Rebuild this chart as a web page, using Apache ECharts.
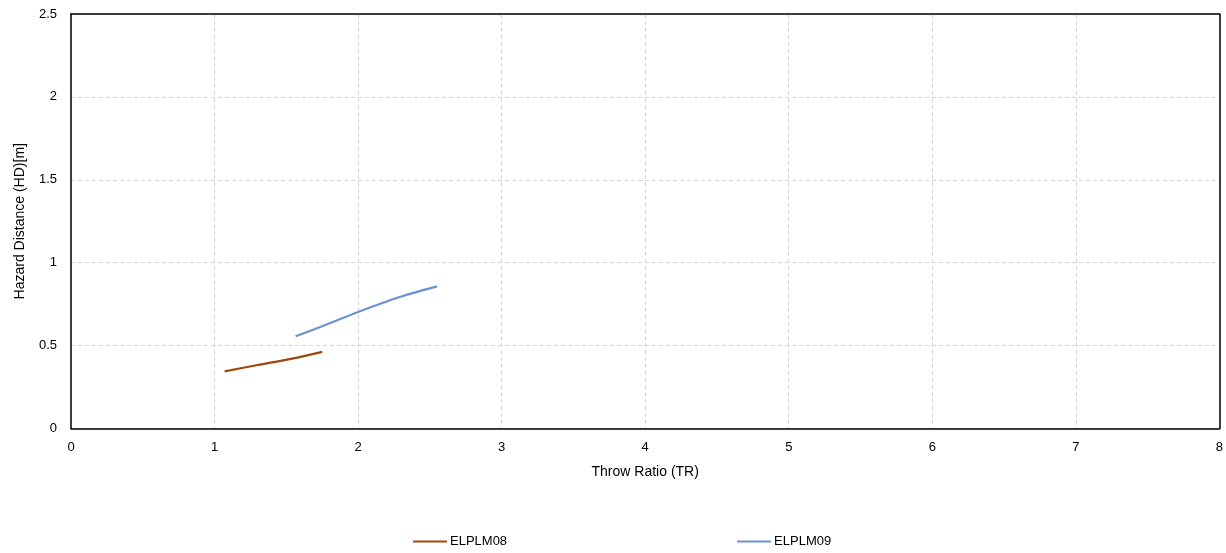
<!DOCTYPE html>
<html>
<head>
<meta charset="utf-8">
<script src="https://cdn.jsdelivr.net/npm/echarts@6/dist/echarts.min.js"></script>
<style>html,body{margin:0;padding:0;background:#fff}#c{width:1226px;height:553px}</style>
</head>
<body>
<div id="c"></div>
<script>
const seriesNames = ['ELPLM08', 'ELPLM09'];
const elplm08 = [[1.07, 0.345], [1.3, 0.383], [1.55, 0.423], [1.75, 0.462]];
const elplm09 = [[1.565, 0.556], [1.78, 0.627], [2.0, 0.703], [2.29, 0.793], [2.55, 0.857]];
const xName = 'Throw Ratio (TR)';
const yName = 'Hazard Distance (HD)[m]';

const chart = echarts.init(document.getElementById('c'));
const font = 'Liberation Sans, Arial, sans-serif';
const frameAxis = { show: true, onZero: false, lineStyle: { color: '#000', width: 1.5 } };
chart.setOption({
  animation: false,
  grid: { left: 71, right: 6, top: 14, bottom: 124.5 },
  xAxis: [{
    type: 'value', min: 0, max: 8, interval: 1,
    name: xName, nameLocation: 'middle', nameGap: 37,
    nameTextStyle: { fontFamily: font, fontSize: 14, color: '#000' },
    axisLine: frameAxis,
    axisTick: { show: false },
    axisLabel: { fontFamily: font, fontSize: 13, color: '#000', margin: 12 },
    splitLine: { lineStyle: { color: '#d4d4d4', type: [4, 3] } }
  }, {
    type: 'value', position: 'top', min: 0, max: 8, interval: 1,
    axisLine: frameAxis, axisTick: { show: false }, axisLabel: { show: false }, splitLine: { show: false }
  }],
  yAxis: [{
    type: 'value', min: 0, max: 2.5, interval: 0.5,
    name: yName, nameLocation: 'middle', nameGap: 44,
    nameTextStyle: { fontFamily: font, fontSize: 14, color: '#000' },
    axisLine: frameAxis,
    axisTick: { show: false },
    axisLabel: { fontFamily: font, fontSize: 13, color: '#000', margin: 14 },
    splitLine: { lineStyle: { color: '#d4d4d4', type: [4, 3] } }
  }, {
    type: 'value', position: 'right', min: 0, max: 2.5, interval: 0.5,
    axisLine: frameAxis, axisTick: { show: false }, axisLabel: { show: false }, splitLine: { show: false }
  }],
  legend: {
    left: 413, top: 535, padding: 0, itemWidth: 34, itemHeight: 2, itemGap: 230, icon: 'rect',
    textStyle: { fontFamily: font, fontSize: 13, color: '#000', padding: [0, 0, 0, -2] },
    data: seriesNames
  },
  series: [
    { name: seriesNames[0], type: 'line', data: elplm08, symbol: 'none', smooth: 0.3,
      lineStyle: { color: '#9E480E', width: 2.2 }, itemStyle: { color: '#9E480E' } },
    { name: seriesNames[1], type: 'line', data: elplm09, symbol: 'none', smooth: 0.3,
      lineStyle: { color: '#6C91D6', width: 2.2 }, itemStyle: { color: '#6C91D6' } }
  ]
});
</script>
</body>
</html>
